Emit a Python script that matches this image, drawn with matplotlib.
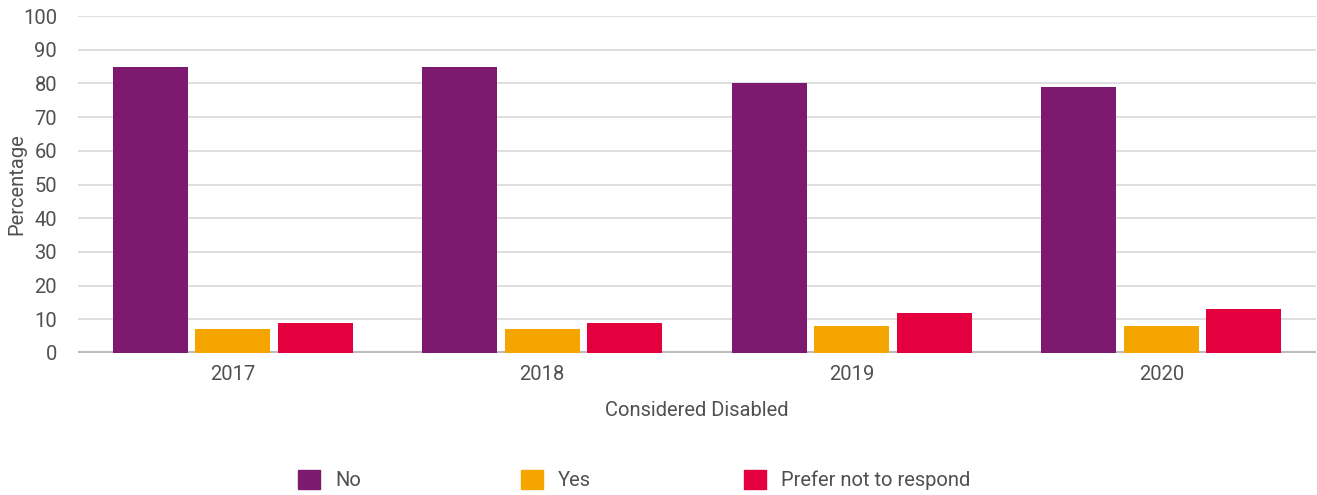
import numpy as np
import matplotlib.pyplot as plt
from matplotlib.patches import Patch

plt.rcParams['font.family'] = ['Roboto', 'DejaVu Sans']

years = ['2017', '2018', '2019', '2020']
no_vals = [85, 85, 80, 79]
yes_vals = [7, 7, 8, 8]
prefer_vals = [9, 9, 12, 13]
series_labels = ['No', 'Yes', 'Prefer not to respond']
colors = ['#7D1A6F', '#F5A500', '#E4003F']
text_col = '#505050'
fs = 14.5

fig = plt.figure(figsize=(13.17, 4.95), dpi=100)
ax = fig.add_axes([78 / 1317, 142 / 495, 1238 / 1317, 337 / 495])

x = np.arange(len(years))
width = 0.242
step = 0.267
for i, (vals, c) in enumerate(zip([no_vals, yes_vals, prefer_vals], colors)):
    ax.bar(x + (i - 1) * step, vals, width=width, color=c, zorder=3)

ax.set_xlim(-0.5, 3.5)
ax.set_ylim(0, 100)
ax.set_yticks(range(0, 101, 10))
ax.set_xticks(x)
ax.set_xticklabels(years)
ax.grid(axis='y', color='#d9d9d9', linewidth=1.2, zorder=0)
ax.axhline(0, color='#bdbdbd', linewidth=3, zorder=2)
for s in ax.spines.values():
    s.set_visible(False)
ax.tick_params(axis='both', length=0, labelsize=fs, labelcolor=text_col)
ax.tick_params(axis='y', pad=15)
ax.tick_params(axis='x', pad=9)
ax.set_ylabel('Percentage', fontsize=fs, color=text_col)
ax.yaxis.set_label_coords(-0.042, 0.5)
ax.set_xlabel('Considered Disabled', fontsize=fs, color=text_col, labelpad=12)

# legend entries spaced evenly
leg_x = [298, 521, 744]
for lx, lab, c in zip(leg_x, series_labels, colors):
    leg = fig.legend(handles=[Patch(color=c)], labels=[lab], loc='center left',
                     bbox_to_anchor=((lx - 8) / 1317, 15 / 495), frameon=False,
                     fontsize=fs, handlelength=1.1, handleheight=1.1,
                     handletextpad=0.75, borderaxespad=0)
    for t in leg.get_texts():
        t.set_color(text_col)

fig.savefig('out.png', dpi=100)
